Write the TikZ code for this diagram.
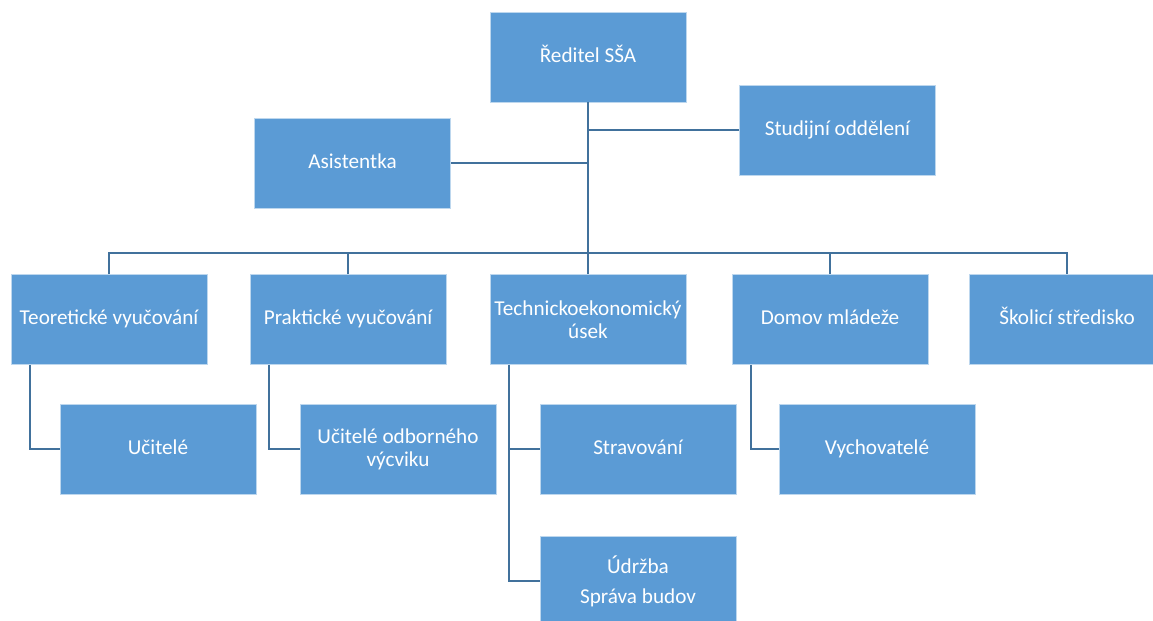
\documentclass[tikz,border=0pt]{standalone}
\usepackage{fontspec}
\setmainfont{Carlito}
\definecolor{boxblue}{HTML}{5B9BD5}
\definecolor{boxedge}{HTML}{BDD7EE}
\definecolor{linkblue}{HTML}{41719C}
\tikzset{
  unit/.style={rectangle, fill=boxblue, draw=boxedge, line width=0.4pt,
    minimum width=98pt, minimum height=45pt, inner sep=2pt, align=center,
    text=white, font=\fontsize{10.6}{11.5}\selectfont},
  oneline/.style={unit, text height=0.72em, text depth=0.22em},
  link/.style={draw=linkblue, line width=1pt}
}
\begin{document}
\begin{tikzpicture}[x=0.5pt,y=-0.5pt]
        \clip (0,0) rectangle (1153,621);
        \fill[white] (0,0) rectangle (1153,621);
        % top level
        \node[oneline] (dir) at (588,57) {Ředitel SŠA};
        \node[oneline] (stud) at (837.5,130) {Studijní oddělení};
        \node[oneline] (asist) at (352.5,163) {Asistentka};
        % departments
        \node[oneline] (teor) at (109,319.5) {Teoretické vyučování};
        \node[oneline] (prakt) at (348,319.5) {Praktické vyučování};
        \node[unit] (tech) at (588,319.5) {Technickoekonomický\\úsek};
        \node[oneline] (domov) at (830,319.5) {Domov mládeže};
        \node[oneline] (skol) at (1067,319.5) {Školicí středisko};
        % staff
        \node[oneline] (ucit) at (158,449) {Učitelé};
        \node[unit] (ucod) at (398,449) {Učitelé odborného\\výcviku};
        \node[oneline] (strav) at (638,449) {Stravování};
        \node[unit, font=\fontsize{10.6}{15}\selectfont] (udrz) at (638,581) {Údržba\\Správa budov};
        \node[oneline] (vych) at (877,449) {Vychovatelé};
        % connectors
        \coordinate (bus) at (588,253);
        \draw[link] (dir.south) -- (tech.north);
        \draw[link] (stud.west) -- (stud.west -| dir.south);
        \draw[link] (asist.east) -- (asist.east -| dir.south);
        \draw[link] (teor.north) |- (bus) -| (skol.north);
        \foreach \d in {prakt,domov}
            \draw[link] (\d.north) -- (\d.north |- bus);
        \foreach \d/\s in {teor/ucit,prakt/ucod,tech/strav,tech/udrz,domov/vych}
            \draw[link] ([xshift=9.5pt]\d.south west) |- (\s.west);
\end{tikzpicture}
\end{document}
